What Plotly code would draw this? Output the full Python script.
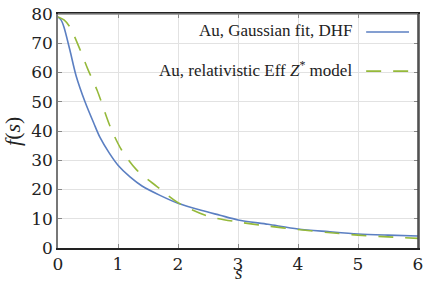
import plotly.graph_objects as go

# Data
s_dhf = [0, 0.05, 0.1, 0.2, 0.3, 0.45, 0.6, 0.7, 0.85, 1.0, 1.2, 1.4, 1.7, 2.0, 2.4, 2.7, 3.0, 3.5, 4.0, 4.5, 5.0, 5.5, 6.0]
f_dhf = [79, 78, 75.5, 67.5, 59, 50, 42.5, 37.8, 32.6, 28.3, 24.3, 21.2, 18.0, 15.3, 12.8, 11.2, 9.6, 8.1, 6.5, 5.6, 4.8, 4.4, 4.1]

s_eff = [0, 0.1, 0.2, 0.37, 0.5, 0.65, 0.88, 1.06, 1.31, 1.65, 2.0, 2.48, 3.0, 3.5, 4.0, 4.5, 5.0, 5.5, 6.0]
f_eff = [79, 78, 75.5, 67.7, 61, 54, 41, 33.5, 26.7, 21, 15.5, 11, 8.9, 7.5, 6.3, 5.3, 4.4, 3.8, 3.3]

x_ticks = [0, 1, 2, 3, 4, 5, 6]
y_ticks = [0, 10, 20, 30, 40, 50, 60, 70, 80]

labels = ["Au, Gaussian fit, DHF", "Au, relativistic Eff <i>Z</i><sup>*</sup> model"]
BLUE = "#5b7fc2"
GREEN = "#95b93a"
DASH = "15px,12px"
FONT = "Liberation Serif"
TFONT = "DejaVu Serif"

fig = go.Figure()
fig.add_trace(go.Scatter(x=s_dhf, y=f_dhf, mode="lines", line=dict(color=BLUE, width=1.6, shape="spline", smoothing=0.8), showlegend=False))
fig.add_trace(go.Scatter(x=s_eff, y=f_eff, mode="lines", line=dict(color=GREEN, width=1.6, dash=DASH, shape="spline", smoothing=0.8), showlegend=False))

axis_common = dict(showgrid=True, gridcolor="#e2e2e2", gridwidth=1, zeroline=False,
                   ticks="inside", ticklen=4, tickcolor="#888", mirror="ticks", automargin=False,
                   showline=True, tickfont=dict(family=TFONT, size=17, color="#222"))
fig.update_xaxes(range=[0, 6], tickvals=x_ticks, ticktext=[str(v) for v in x_ticks],
                 linecolor="#222", linewidth=1.5, **axis_common)
fig.update_yaxes(range=[0, 80], tickvals=y_ticks, ticktext=[str(v) for v in y_ticks],
                 linecolor="#777", linewidth=1.5, **axis_common)

# legend background (covers grid), frame top/right
fig.add_shape(type="rect", xref="paper", yref="paper", x0=0.094, x1=1, y0=0.728, y1=1,
              fillcolor="white", line_width=0, layer="between")
fig.add_shape(type="line", xref="paper", yref="paper", x0=0, x1=1, y0=1, y1=1, line=dict(color="#888", width=1.5))
fig.add_shape(type="line", xref="paper", yref="paper", x0=1, x1=1, y0=0, y1=1, line=dict(color="#444", width=1.5))

# legend entries
rows_y = [0.923, 0.756]
colors = [BLUE, GREEN]
dashes = ["solid", DASH]
for lab, yy, c, d in zip(labels, rows_y, colors, dashes):
    fig.add_annotation(xref="paper", yref="paper", x=0.822, y=yy + 0.008, text=lab, showarrow=False,
                       xanchor="right", yanchor="middle", font=dict(family=FONT, size=17, color="#222"))
    fig.add_shape(type="line", xref="paper", yref="paper", x0=0.856, x1=0.975, y0=yy, y1=yy,
                  line=dict(color=c, width=1.6, dash=d))

# axis titles
fig.add_annotation(xref="paper", yref="paper", x=0.5, y=-0.158, text="<i>s</i>", showarrow=False,
                   xanchor="center", yanchor="bottom", font=dict(family=FONT, size=19, color="#222"))
fig.add_annotation(xref="paper", yref="paper", x=-0.128, y=0.5, text="<i>f</i>(<i>s</i>)", showarrow=False,
                   textangle=-90, xanchor="center", yanchor="middle", font=dict(family=FONT, size=22, color="#222"))

fig.update_layout(width=436, height=283, margin=dict(l=58, r=18, t=14, b=35),
                  font=dict(family=FONT, color="#222"),
                  plot_bgcolor="white", paper_bgcolor="white", showlegend=False)
fig.write_html("out.html", config={"displayModeBar": False},
               post_script="document.body.style.margin='0';document.body.style.padding='0';")
